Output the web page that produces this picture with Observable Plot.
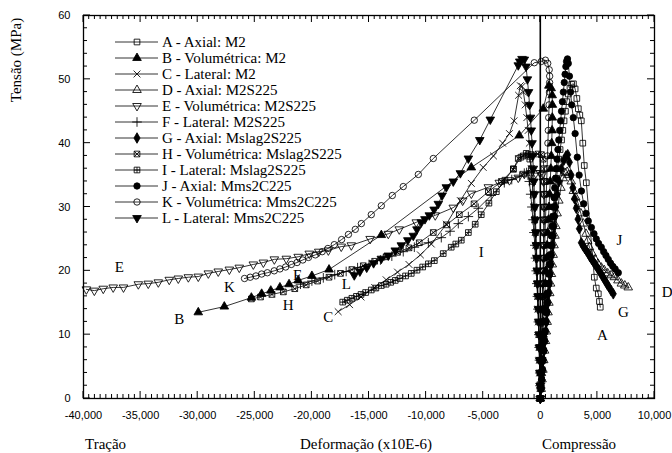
<!DOCTYPE html>
<html><head><meta charset="utf-8">
<script src="https://cdn.jsdelivr.net/npm/d3@7"></script>
<script src="https://cdn.jsdelivr.net/npm/@observablehq/plot@0.6"></script>
<style>
body{margin:0;background:#fff;}
#chart{position:relative;width:672px;height:453px;overflow:hidden;}
.ttl{position:absolute;font-family:"Liberation Serif","Times New Roman",serif;font-size:15px;color:#000;white-space:nowrap;line-height:1;}
</style>
</head><body>
<div id="chart"></div>
<script>
// ---- data: [strain (x10E-6), stress (MPa)] ----
const serA = [[0,0],[60,1.5],[120,3],[180,4.5],[240,6],[300,7.5],[360,9],[420,10.5],[480,12],[540,13.5],[600,15],[660,16.5],[720,18],[780,19.5],[840,21],[900,22.5],[960,24],[1020,25.5],[1080,27],[1140,28.5],[1200,30],[1270,31.5],[1340,33],[1420,34.5],[1510,36],[1610,37.5],[1730,39],[1860,40.5],[1970,42],[2080,43.5],[2200,45],[2320,46.5],[2450,47.7],[2600,48.6],[2750,49.2],[2900,49.3],[3050,48.5],[3200,47],[3330,45.4],[3460,44.4],[3590,43.5],[3720,40],[3850,36.5],[4030,33.8],[4730,19],[4900,17.3],[5080,16.4],[5180,15.2],[5250,14.3]];
const serB = [[0,0],[45,2],[90,4],[140,6],[190,8],[240,10],[290,12],[340,14],[390,16],[440,18],[490,20],[545,22],[600,24],[655,26],[710,28],[765,30],[820,32],[870,34],[920,36],[965,38],[1000,40],[1030,42],[1050,44],[1060,46],[1040,47.5],[950,48.6],[750,49],[260,45.4],[-1840,41.2],[-6040,36.2],[-13920,25.6],[-18500,20.2],[-20000,19.2],[-21200,18.5],[-22000,17.9],[-22800,17.4],[-23600,16.9],[-24400,16.4],[-25300,15.8],[-27670,14.4],[-29950,13.5]];
const serC = [[0,0],[-20,2],[-45,4],[-70,6],[-100,8],[-130,10],[-160,12],[-195,14],[-230,16],[-270,18],[-310,20],[-355,22],[-400,24],[-450,26],[-510,28],[-570,30],[-640,32],[-710,34],[-790,36],[-870,38],[-960,40],[-1060,42],[-1180,44],[-1320,46],[-1480,48],[-1600,48.9],[-1750,49],[-1900,47.5],[-2300,43.5],[-2700,41.5],[-3300,40],[-4100,38],[-5000,36.2],[-6040,33.7],[-7000,31],[-8230,27.3],[-9545,24.2],[-10500,22.5],[-11500,21],[-12500,19.8],[-13500,18.6],[-14500,17.4],[-15700,15.9],[-16700,14.7],[-17700,13.6]];
const serD = [[0,0],[75,1.5],[150,3],[225,4.5],[300,6],[375,7.5],[450,9],[525,10.5],[600,12],[675,13.5],[750,15],[825,16.5],[900,18],[975,19.5],[1050,21],[1125,22.5],[1200,24],[1280,25.5],[1360,27],[1470,29],[1620,31],[1800,33],[2000,34.5],[2200,35.3],[2350,35.5],[2500,35],[2710,34],[2900,32.5],[3100,31.5],[3330,30.5],[3550,29],[3770,27.4],[4000,25.8],[4150,24.7],[4300,23.7],[4550,22.7],[4800,21.8],[5050,21.1],[5340,20.5],[5600,20.1],[5900,19.6],[6200,19.3],[6480,19],[6800,18.5],[7100,18],[7400,17.7],[7700,17.4]];
const serE = [[0,0],[25,2],[50,4],[75,6],[100,8],[125,10],[150,12],[175,14],[200,16],[225,18],[250,20],[270,22],[290,24],[305,26],[315,28],[320,30],[310,32],[280,34],[150,35],[0,35.3],[-400,35.3],[-800,35.3],[-1400,35.2],[-1930,34.6],[-2700,34.2],[-3590,33.8],[-4550,33.1],[-6040,32.1],[-6800,31],[-7620,29.9],[-9200,28.7],[-10860,27.6],[-12350,26.5],[-13310,25.8],[-14900,25],[-16550,24],[-17430,23.8],[-18560,23.2],[-19400,23],[-20230,22.7],[-21200,22.2],[-22240,21.9],[-23290,21.8],[-24250,21.3],[-25130,21],[-26360,20.5],[-27230,20.2],[-28200,19.9],[-29070,19.6],[-29950,19.1],[-30820,19],[-31700,18.8],[-32490,18.6],[-33450,18.2],[-34330,18],[-35200,17.9],[-36500,17.4],[-37400,17.4],[-38270,17.2],[-39050,16.9],[-39750,17.1]];
const serF = [[0,0],[-22,2],[-46,4],[-72,6],[-100,8],[-130,10],[-165,12],[-205,14],[-250,16],[-300,18],[-355,20],[-415,22],[-480,24],[-555,26],[-640,28],[-735,30],[-840,32],[-960,34],[-1080,35],[-1200,35.4],[-1400,35.3],[-1800,34.8],[-2500,34.3],[-3150,33.8],[-4300,31.8],[-5430,29.8],[-6300,28.5],[-7180,27.4],[-7900,26.2],[-8670,25.2],[-9800,24.4],[-11030,23.7],[-12000,23],[-13000,22.3],[-14000,21.7],[-15000,21],[-16000,20.5],[-17000,19.9],[-18000,19.4],[-19000,18.9],[-20000,18.4],[-21000,17.9]];
const serG = [[0,0],[70,1.5],[140,3],[205,4.5],[270,6],[340,7.5],[405,9],[475,10.5],[540,12],[610,13.5],[675,15],[745,16.5],[810,18],[880,19.5],[945,21],[1015,22.5],[1080,24],[1150,25.5],[1215,27],[1285,28.5],[1350,30],[1480,32],[1640,34],[1850,36],[2050,37.3],[2250,38],[2400,38.2],[2550,37],[2700,35],[2850,33],[3000,31.3],[3150,29.8],[3300,28.1],[3420,26.6],[3590,24.4],[3750,23.9],[3900,23.5],[4050,23.1],[4200,22.7],[4350,22.2],[4500,21.8],[4650,21.4],[4800,21],[4950,20.6],[5080,20.2],[5250,19.7],[5400,19.3],[5550,18.8],[5700,18.4],[5850,17.9],[6000,17.5],[6200,16.9],[6390,16.4]];
const serH = [[0,0],[25,2],[50,4],[75,6],[100,8],[125,10],[150,12],[175,14],[200,16],[225,18],[250,20],[275,22],[300,24],[320,26],[340,28],[355,30],[360,32],[350,34],[320,36],[250,37.5],[100,38.2],[-200,38.3],[-800,38.2],[-1500,38],[-1930,37.6],[-2360,35.9],[-3400,34],[-4550,32.4],[-5800,30.5],[-7090,28.8],[-8200,27.2],[-9370,26],[-10600,24.4],[-11500,23.6],[-12500,22.9],[-13500,22.2],[-14500,21.5],[-15500,20.8],[-16500,20.2],[-17500,19.6],[-18500,19],[-19500,18.4],[-20500,17.8],[-21500,17.2],[-22500,16.7],[-23500,16.3],[-24500,15.9],[-25300,15.6]];
const serI = [[0,0],[-20,2],[-42,4],[-66,6],[-92,8],[-120,10],[-150,12],[-182,14],[-216,16],[-252,18],[-290,20],[-330,22],[-375,24],[-425,26],[-480,28],[-540,30],[-610,32],[-690,34],[-790,36],[-920,37.5],[-1060,38.2],[-1230,38.4],[-1700,37.8],[-2360,36],[-3100,34.2],[-3850,32.4],[-4500,30.6],[-5170,28.8],[-5700,27.3],[-6300,26],[-6920,24.8],[-7400,24.2],[-7800,23.7],[-8500,22.7],[-9280,21.6],[-9800,21.1],[-10300,20.6],[-10800,20.1],[-11300,19.6],[-11800,19.2],[-12300,18.8],[-12700,18.5],[-13100,18.2],[-13500,17.9],[-13920,17.7],[-14400,17.3],[-14800,17],[-15300,16.6],[-15700,16.3],[-16100,16],[-16500,15.7],[-16900,15.4],[-17300,15.1]];
const serJ = [[0,0],[57,1.5],[114,3],[171,4.5],[228,6],[285,7.5],[342,9],[399,10.5],[456,12],[513,13.5],[570,15],[627,16.5],[684,18],[741,19.5],[798,21],[855,22.5],[912,24],[969,25.5],[1026,27],[1083,28.5],[1140,30],[1200,31.5],[1265,33],[1330,34.5],[1400,36],[1470,37.5],[1545,39],[1620,40.5],[1700,42],[1780,43.5],[1860,45],[1940,46.5],[2020,48],[2100,49.5],[2170,50.8],[2240,52],[2300,52.8],[2380,53.2],[2450,52.5],[2550,50.5],[2650,48],[2750,46],[2890,44],[3050,41.5],[3240,37.8],[3400,35],[3600,32.5],[3800,30.5],[4000,29],[4200,27.8],[4470,26.8],[4700,25.8],[4900,25],[5100,24.3],[5340,23.7],[5550,23],[5750,22.4],[5950,21.8],[6150,21.2],[6350,20.7],[6550,20.3],[6830,19.7]];
const serK = [[0,0],[30,2],[60,4],[90,6],[120,8],[150,10],[180,12],[210,14],[245,16],[280,18],[315,20],[350,22],[385,24],[420,26],[455,28],[490,30],[525,32],[560,34],[595,36],[630,38],[665,40],[700,42],[735,44],[770,46],[800,48],[815,49.5],[820,50.5],[780,51.5],[650,52.5],[450,53],[90,52.8],[-525,52.6],[-5780,43.6],[-9370,37.6],[-10680,35.1],[-12000,33.2],[-12960,31.8],[-13920,30.2],[-14800,28.8],[-15670,27.4],[-16200,26.5],[-16800,25.7],[-17400,24.9],[-18040,24.1],[-18600,23.5],[-19100,23],[-19700,22.5],[-20300,22.1],[-20800,21.7],[-21300,21.3],[-21800,21],[-22300,20.6],[-22800,20.3],[-23300,20],[-23900,19.7],[-24400,19.5],[-24900,19.2],[-25400,19],[-25900,18.8]];
const serL = [[0,0],[-20,2],[-42,4],[-65,6],[-90,8],[-115,10],[-142,12],[-170,14],[-200,16],[-232,18],[-266,20],[-302,22],[-340,24],[-380,26],[-422,28],[-466,30],[-512,32],[-560,34],[-610,36],[-665,38],[-725,40],[-790,42],[-860,44],[-940,46],[-1030,48],[-1130,50],[-1250,52],[-1400,53.1],[-1600,53.2],[-1800,52.8],[-1930,52.2],[-4380,43.7],[-5300,40.5],[-6300,37.6],[-7000,35.3],[-7620,34],[-8230,33.1],[-8600,31.8],[-8930,30.5],[-9300,29.6],[-9720,28.7],[-10100,28.1],[-10420,27.6],[-10800,26.5],[-11120,25.5],[-11600,24.8],[-12170,24],[-12700,23.2],[-13310,22.4],[-13920,21.9],[-14600,21.2],[-15200,20.5],[-15800,19.9],[-16290,19.3]];

const seriesNames = [
  "A - Axial: M2", "B - Volumétrica: M2", "C - Lateral: M2",
  "D - Axial: M2S225", "E - Volumétrica: M2S225", "F - Lateral: M2S225",
  "G - Axial: Mslag2S225", "H - Volumétrica: Mslag2S225", "I - Lateral: Mslag2S225",
  "J - Axial: Mms2C225", "K - Volumétrica: Mms2C225", "L - Lateral: Mms2C225"
];
const seriesData = [serA, serB, serC, serD, serE, serF, serG, serH, serI, serJ, serK, serL];

// curve letters placed on the plot (data coordinates)
const curveLetters = ["E","K","F","H","L","B","C","I","J","D","G","A"];
const letterX = [-36860,-27230,-21280,-22070,-16990,-31610,-18560,-5170,6920,11120,7270,5430];
const letterY = [20.5,17.4,19.3,14.6,17.9,12.5,12.8,22.9,24.8,16.6,13.5,9.9];

// ticks
const xTicks = [-40000,-35000,-30000,-25000,-20000,-15000,-10000,-5000,0,5000,10000];
const yTicks = [0,10,20,30,40,50,60];
const xMinorTicks = d3.range(-40000, 10001, 500).filter(v => v % 5000 !== 0);
const yMinorTicks = d3.range(0, 61, 2).filter(v => v % 10 !== 0);

// ---- marker shapes ----
const triDown = {draw(ctx, size){ const y = -Math.sqrt(size / (Math.sqrt(3) * 3)); const s3 = Math.sqrt(3);
  ctx.moveTo(0, -2 * y); ctx.lineTo(-s3 * y, y); ctx.lineTo(s3 * y, y); ctx.closePath(); }};
const squareX = {draw(ctx, size){ const s = Math.sqrt(size) / 2;
  ctx.moveTo(-s,-s); ctx.lineTo(s,-s); ctx.lineTo(s,s); ctx.lineTo(-s,s); ctx.closePath();
  ctx.moveTo(-s,-s); ctx.lineTo(s,s); ctx.moveTo(s,-s); ctx.lineTo(-s,s); }};
const squarePlus = {draw(ctx, size){ const s = Math.sqrt(size) / 2;
  ctx.moveTo(-s,-s); ctx.lineTo(s,-s); ctx.lineTo(s,s); ctx.lineTo(-s,s); ctx.closePath();
  ctx.moveTo(0,-s); ctx.lineTo(0,s); ctx.moveTo(-s,0); ctx.lineTo(s,0); }};
const seriesSymbols = [d3.symbolSquare, d3.symbolTriangle, d3.symbolTimes, d3.symbolTriangle, triDown, d3.symbolPlus,
  d3.symbolDiamond, squareX, squarePlus, d3.symbolCircle, d3.symbolCircle, triDown];
const seriesFilled = [false, true, false, false, false, false, true, false, false, true, false, true];

const R = 3.2;
const SERIF = "'Liberation Serif', 'Times New Roman', serif";
const SANS = "'Liberation Sans', Arial, sans-serif";
const marks = [Plot.ruleX([0], {stroke: "#000", strokeWidth: 1.6})];
seriesData.forEach((pts) => {
  marks.push(Plot.line(pts, {x: d => d[0], y: d => d[1], stroke: "#000", strokeWidth: 0.8}));
});
seriesData.forEach((pts, i) => {
  marks.push(Plot.dot(pts, {x: d => d[0], y: d => d[1], symbol: seriesSymbols[i], r: R,
    stroke: "#000", strokeWidth: 0.85, fill: seriesFilled[i] ? "#000" : "none"}));
});
const lbl = curveLetters.map((t, i) => ({t, x: letterX[i], y: letterY[i]}));
marks.push(
  Plot.frame({stroke: "#000", strokeWidth: 1.3}),
  Plot.axisX(xTicks, {anchor: "bottom", tickSize: 0, tickPadding: 13, label: null,
    tickFormat: d => d.toLocaleString("en-US"), fontSize: 11, fontFamily: SANS}),
  Plot.axisY(yTicks, {anchor: "left", tickSize: 0, tickPadding: 13, label: null,
    fontSize: 11, fontFamily: SANS}),
  Plot.text(lbl, {x: "x", y: "y", text: "t", fontSize: 15, fontFamily: SERIF, fill: "#000"})
);

const svg = Plot.plot({
  width: 672, height: 453,
  marginLeft: 83, marginRight: 18, marginTop: 15, marginBottom: 55,
  x: {domain: [-40000, 10000]},
  y: {domain: [0, 60]},
  style: {background: "#fff", color: "#000", fontFamily: SANS, fontSize: "11px"},
  marks
});

// inward frame ticks, positioned with the plot's own scales
const sx = svg.scale("x"), sy = svg.scale("y");
const [x0, x1] = sx.range, [y0, y1] = sy.range; // y0 bottom, y1 top
const tg = d3.select(svg).append("g").attr("stroke", "#000").attr("stroke-width", 1);
function tickX(v, len) {
  const px = sx.apply(v);
  tg.append("line").attr("x1", px).attr("x2", px).attr("y1", y0).attr("y2", y0 - len);
  tg.append("line").attr("x1", px).attr("x2", px).attr("y1", y1).attr("y2", y1 + len);
}
function tickY(v, len) {
  const py = sy.apply(v);
  tg.append("line").attr("y1", py).attr("y2", py).attr("x1", x0).attr("x2", x0 + len);
  tg.append("line").attr("y1", py).attr("y2", py).attr("x1", x1).attr("x2", x1 - len);
}
xTicks.forEach(v => tickX(v, 7));
xMinorTicks.forEach(v => tickX(v, 4));
yTicks.forEach(v => tickY(v, 7));
yMinorTicks.forEach(v => tickY(v, 4));

// legend (pixel space inside the plot)
const lg = d3.select(svg).append("g").attr("class", "legend");
seriesNames.forEach((name, i) => {
  const yy = 42 + 16 * i;
  lg.append("line").attr("x1", 115).attr("x2", 158).attr("y1", yy).attr("y2", yy)
    .attr("stroke", "#000").attr("stroke-width", 0.8);
  lg.append("path").attr("transform", `translate(137,${yy})`)
    .attr("d", d3.symbol(seriesSymbols[i], Math.PI * R * R)())
    .attr("fill", seriesFilled[i] ? "#000" : "none").attr("stroke", "#000").attr("stroke-width", 0.85);
  lg.append("text").attr("x", 162).attr("y", yy).attr("dy", "0.34em")
    .attr("text-anchor", "start")
    .attr("font-family", SERIF).attr("font-size", 15)
    .attr("fill", "#000").text(name);
});

const chart = document.getElementById("chart");
chart.appendChild(svg);
function addTitle(text, left, top, anchor, rotate) {
  const d = document.createElement("div");
  d.className = "ttl"; d.textContent = text;
  d.style.left = left + "px"; d.style.top = top + "px";
  let tf = anchor === "middle" ? "translate(-50%,-50%)" : "translate(0,-50%)";
  if (rotate) tf = "translate(-50%,-50%) rotate(-90deg)";
  d.style.transform = tf;
  chart.appendChild(d);
}
addTitle("Tração", 85, 444, "start");
addTitle("Deformação (x10E-6)", 366, 444, "middle");
addTitle("Compressão", 579, 444, "middle");
addTitle("Tensão (MPa)", 16, 60, "middle", true);
</script>
</body></html>
